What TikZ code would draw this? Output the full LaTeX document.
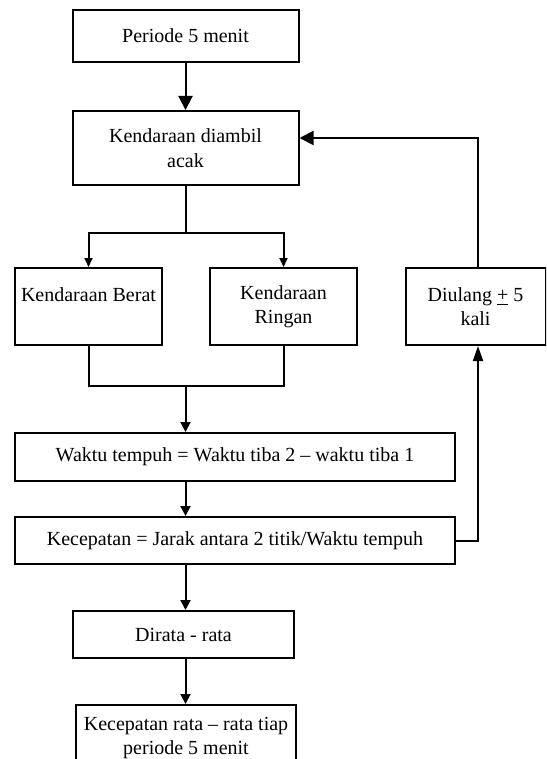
\documentclass[tikz,border=0pt]{standalone}
\usepackage{fontspec}
\setmainfont{Liberation Serif}
\usetikzlibrary{arrows.meta}
\begin{document}
\begin{tikzpicture}[x=0.5pt,y=-0.5pt,
  box/.style={draw, line width=1pt, align=center, inner sep=0pt,
    font=\fontsize{10}{12.2}\selectfont},
  link/.style={line width=1pt},
  bigarr/.style={link, -{Triangle[length=7pt,width=7pt]}},
  midarr/.style={link, -{Triangle[length=5pt,width=5pt]}},
  smallarr/.style={link, -{Triangle[length=4.5pt,width=4pt]}},
  uparr/.style={link, -{Triangle[length=7.5pt,width=5pt]}}]
\useasboundingbox (0,0) rectangle (546,759);
\clip (0,0) rectangle (546,759);

% process boxes
\node[box, minimum width=113pt, minimum height=26pt] (p5) at (185.5,36) {Periode 5 menit};
\node[box, minimum width=113pt, minimum height=37pt] (acak) at (185.5,148) {Kendaraan diambil\\acak};
\node[box, minimum width=73.5pt, minimum height=38.5pt] (berat) at (88.5,306.5) {Kendaraan Berat\\~};
\node[box, minimum width=73.5pt, minimum height=38.5pt] (ringan) at (283.5,306.5) {Kendaraan\\Ringan};
\node[box, minimum width=70pt, minimum height=38.5pt] (ulang) at (475.5,306.5) {Diulang \underline{+} 5\\kali};
\node[box, minimum width=220pt, minimum height=24pt] (waktu) at (235,457) {Waktu tempuh = Waktu tiba 2 – waktu tiba 1};
\node[box, minimum width=220pt, minimum height=23.5pt] (cepat) at (235,540.5) {Kecepatan = Jarak antara 2 titik/Waktu tempuh};
\node[box, minimum width=110.5pt, minimum height=23.5pt] (rata) at (183.5,634.5) {Dirata - rata};
\node[box, minimum width=110pt, minimum height=33pt] (akhir) at (186,738) {Kecepatan rata – rata tiap\\periode 5 menit};

% routing points
\coordinate (fork) at (185.5,233);
\coordinate (join) at (185.5,386);
\coordinate (loopx) at (478,0);
\coordinate (back) at (478,138);

% main flow
\draw[bigarr] (p5.south) -- (acak.north);
\draw[link] (acak.south) -- (fork);
\draw[smallarr] (fork) -| (berat.north);
\draw[smallarr] (fork) -| (ringan.north);
\draw[link] (berat.south) |- (join);
\draw[link] (ringan.south) |- (join);
\draw[midarr] (join) -- (join |- waktu.north);
\draw[midarr] (join |- waktu.south) -- (join |- cepat.north);
\draw[midarr] (join |- cepat.south) -- (join |- rata.north);
\draw[midarr] (join |- rata.south) -- (join |- akhir.north);

% repetition loop
\draw[uparr] (cepat.east) -| (loopx |- ulang.south);
\draw[bigarr] (loopx |- ulang.north) -- (back) -- (back -| acak.east);
\end{tikzpicture}
\end{document}
